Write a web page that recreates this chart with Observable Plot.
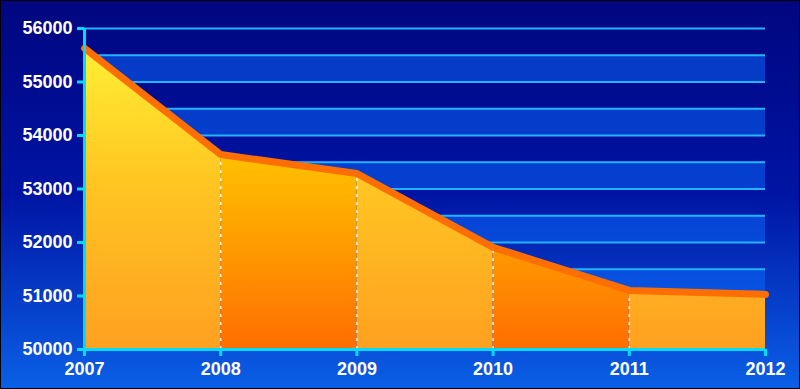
<!DOCTYPE html>
<html>
<head>
<meta charset="utf-8">
<script src="https://cdn.jsdelivr.net/npm/d3@7"></script>
<script src="https://cdn.jsdelivr.net/npm/@observablehq/plot@0.6"></script>
<style>
  html, body { margin: 0; padding: 0; background: #000; }
  #chart svg { display: block; }
</style>
</head>
<body>
<div id="chart"></div>
<script>
const years = [2007, 2008, 2009, 2010, 2011, 2012];
const values = [55630, 53645, 53290, 51910, 51105, 51030];
const yTicks = [50000, 51000, 52000, 53000, 54000, 55000, 56000];
const gridLines = [50500, 51000, 51500, 52000, 52500, 53000, 53500, 54000, 54500, 55000, 55500, 56000];
const bandStarts = [51000, 52000, 53000, 54000, 55000];

const points = years.map((x, i) => ({x, v: values[i]}));
const segments = years.slice(0, -1).flatMap((x, i) => [
  {seg: i, x: years[i], v: values[i]},
  {seg: i, x: years[i + 1], v: values[i + 1]}
]);
const inner = points.slice(1, -1);

const plot = Plot.plot({
  width: 800,
  height: 389,
  marginLeft: 84,
  marginRight: 35,
  marginTop: 28,
  marginBottom: 40,
  style: {
    background: "linear-gradient(to bottom, #00067f 0%, #0014a4 50%, #0a60e6 100%)",
    fontFamily: "'Liberation Sans', Arial, sans-serif",
    fontSize: "18px",
    fontWeight: "bold",
    color: "white"
  },
  x: {domain: [2007, 2012]},
  y: {domain: [50000, 56000]},
  marks: [
    Plot.rect(bandStarts, {x1: 2007, x2: 2012, y1: d => d, y2: d => d + 500, fill: "#0a6cff", fillOpacity: 0.5}),
    Plot.ruleY(gridLines, {x1: 2007, x2: 2012, stroke: "#22b4ff", strokeWidth: 2}),
    Plot.areaY(segments.filter(d => d.seg % 2 === 0), {x: "x", y1: 50000, y2: "v", z: "seg", fill: "url(#gLight)"}),
    Plot.areaY(segments.filter(d => d.seg % 2 === 1), {x: "x", y1: 50000, y2: "v", z: "seg", fill: "url(#gDark)"}),
    Plot.ruleX(inner, {x: "x", y1: 50000, y2: "v", stroke: "white", strokeWidth: 1.5, strokeDasharray: "3,5", strokeOpacity: 0.9}),
    Plot.line(points, {x: "x", y: "v", stroke: "#000", strokeOpacity: 0.35, strokeWidth: 7, dx: 2, dy: 3, strokeLinejoin: "round", strokeLinecap: "round", ariaLabel: "shadowline"}),
    Plot.line(points, {x: "x", y: "v", stroke: "#ff6e00", strokeWidth: 7, strokeLinejoin: "round", strokeLinecap: "round"}),
    Plot.axisY({ticks: yTicks, tickSize: 7, tickPadding: 5, tickFormat: d => String(d), stroke: "#00dcff", strokeWidth: 3, fill: "white", fontSize: 18, fontWeight: "bold", label: null}),
    Plot.axisX({ticks: years, tickSize: 7, tickPadding: 6, tickFormat: d => String(d), stroke: "#00dcff", strokeWidth: 3, fill: "white", fontSize: 18, fontWeight: "bold", label: null}),
    Plot.ruleX([2007], {y1: 50000, y2: 56000, stroke: "#00dcff", strokeWidth: 3}),
    Plot.ruleY([50000], {x1: 2007, x2: 2012, stroke: "#00dcff", strokeWidth: 3})
  ]
});

const svg = d3.select(plot);
const defs = svg.insert("defs", ":first-child");
const light = defs.append("linearGradient").attr("id", "gLight")
  .attr("gradientUnits", "userSpaceOnUse").attr("x1", 0).attr("x2", 0).attr("y1", 40).attr("y2", 349);
light.append("stop").attr("offset", "0%").attr("stop-color", "#fff235");
light.append("stop").attr("offset", "45%").attr("stop-color", "#ffc622");
light.append("stop").attr("offset", "100%").attr("stop-color", "#ffa020");
const dark = defs.append("linearGradient").attr("id", "gDark")
  .attr("gradientUnits", "userSpaceOnUse").attr("x1", 0).attr("x2", 0).attr("y1", 150).attr("y2", 349);
dark.append("stop").attr("offset", "0%").attr("stop-color", "#ffc400");
dark.append("stop").attr("offset", "100%").attr("stop-color", "#ff6e00");
svg.selectAll("g[aria-label='shadowline']").style("filter", "blur(2px)");
svg.append("rect").attr("x", 0.5).attr("y", 0.5).attr("width", 799).attr("height", 388)
  .attr("fill", "none").attr("stroke", "#000").attr("stroke-width", 1);

document.getElementById("chart").appendChild(plot);
</script>
</body>
</html>
